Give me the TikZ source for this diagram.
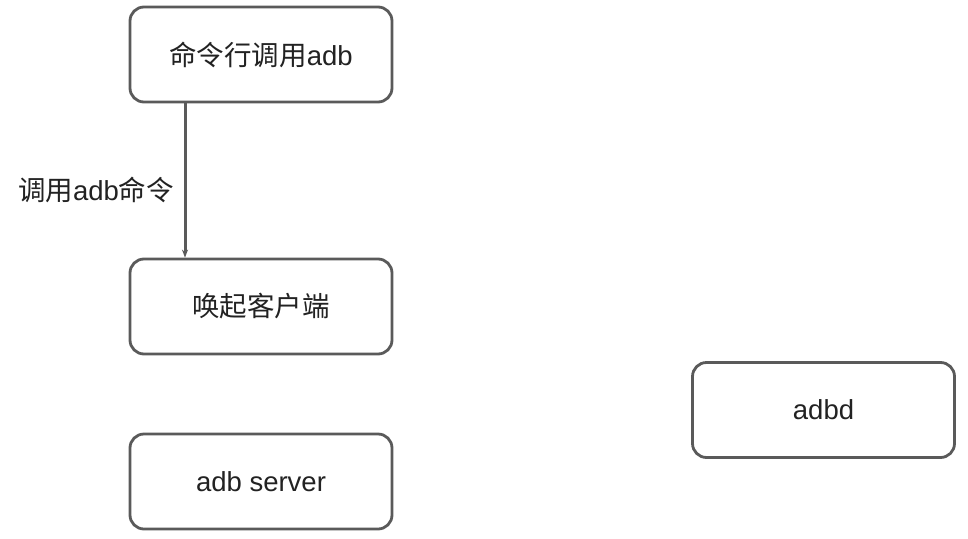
\documentclass[tikz,border=0pt]{standalone}
\usepackage{fontspec}
\setmainfont{Noto Sans CJK SC}
\newfontfamily\lat{Liberation Sans}
\usetikzlibrary{arrows.meta}
\definecolor{boxline}{HTML}{5A5A5A}
\definecolor{txt}{HTML}{222222}
\begin{document}
\begin{tikzpicture}[x=1pt,y=-1pt,
  box/.style={draw=boxline,line width=2.8pt,rounded corners=14pt,minimum width=262pt,minimum height=95pt,inner sep=0pt,font=\fontsize{27.5}{32}\selectfont,text=txt,fill=white},
  conn/.style={draw=boxline,line width=3pt,-{Stealth[length=8pt,width=6pt]}},
  lbl/.style={font=\fontsize{27.5}{32}\selectfont,text=txt}]
\useasboundingbox (0,0) rectangle (968,538);
\node[box] (cmd) at (261,54.5) {命令行调用{\lat adb}};
\node[box] (client) at (261,306.5) {唤起客户端};
\node[box] (server) at (261,481.5) {{\lat adb server}};
\node[box] (adbd) at (823.5,410) {{\lat adbd}};
\coordinate (s) at (185,103);
\coordinate (e) at (185,257);
\draw[conn] (cmd.south -| s) -- (client.north -| e);
\node[lbl] (lab) at (96,190) {调用{\lat adb}命令};
\end{tikzpicture}
\end{document}
